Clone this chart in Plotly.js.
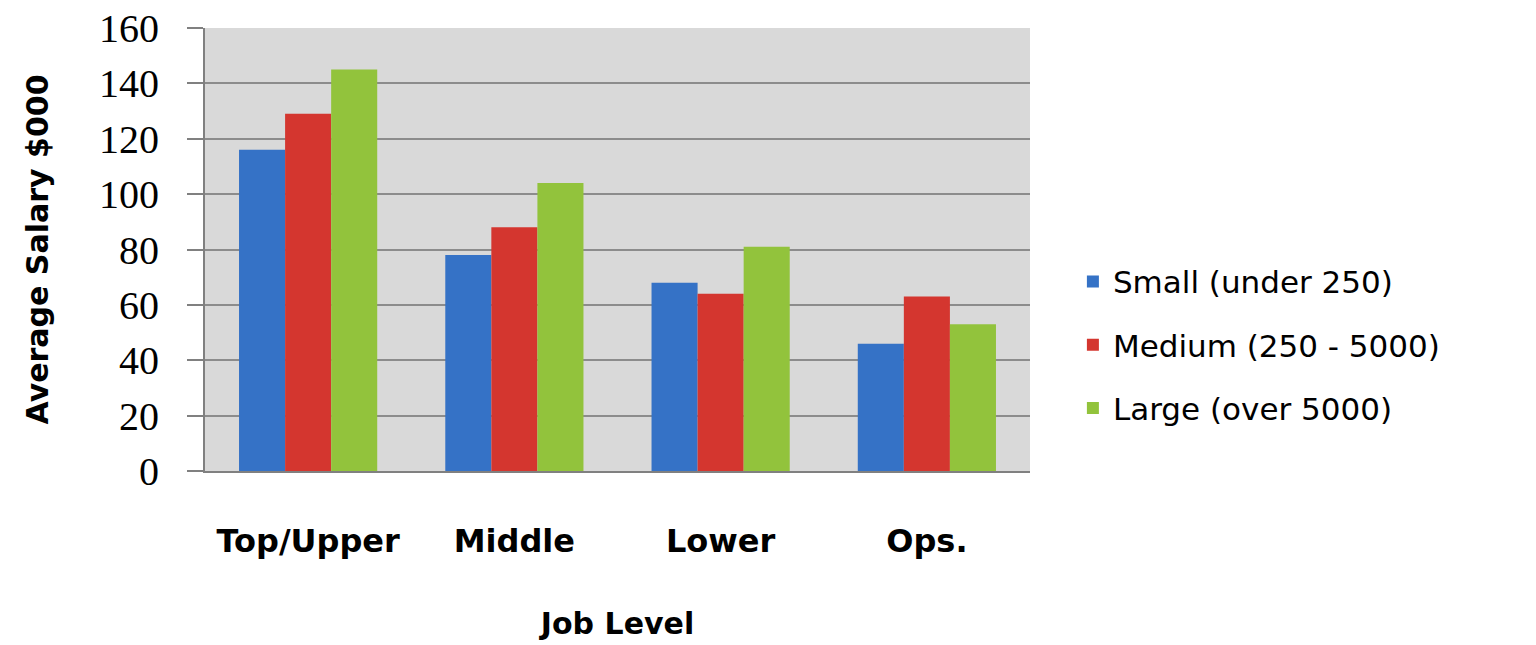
<!DOCTYPE html>
<html>
<head>
<meta charset="utf-8">
<script src="https://cdn.plot.ly/plotly-3.0.1.min.js"></script>
<style>html,body{margin:0;padding:0;background:#fff;}#chart{width:1536px;height:645px;}</style>
</head>
<body>
<div id="chart"></div>
<script>
const categories = ["Top/Upper", "Middle", "Lower", "Ops."];
const seriesNames = ["Small (under 250)", "Medium (250 - 5000)", "Large (over 5000)"];
const small = [116, 78, 68, 46];
const medium = [129, 88, 64, 63];
const large = [145, 104, 81, 53];
const yTicks = [0, 20, 40, 60, 80, 100, 120, 140, 160];

const colors = ["#3572c6", "#d4362f", "#92c33c"];
const values = [small, medium, large];

const sansFont = "'DejaVu Sans', Lato, sans-serif";

const traces = values.map((v, i) => ({
  type: "bar",
  x: categories,
  y: v,
  name: seriesNames[i],
  legendgroup: "g" + i,
  marker: {color: colors[i], line: {width: 0}},
  hoverinfo: "x+y+name"
}));

const layout = {
  width: 1536,
  height: 645,
  margin: {l: 205, r: 506, t: 28, b: 174},
  paper_bgcolor: "#ffffff",
  plot_bgcolor: "#d9d9d9",
  barmode: "group",
  bargap: 0.33,
  bargroupgap: 0,
  showlegend: true,
  legend: {
    x: 1.052, xanchor: "left",
    y: 0.285, yanchor: "middle",
    traceorder: "grouped",
    tracegroupgap: 20,
    font: {family: sansFont, size: 31, color: "#000"},
    bgcolor: "rgba(0,0,0,0)"
  },
  xaxis: {
    type: "category",
    showgrid: false,
    showline: true,
    linecolor: "#808080",
    linewidth: 2,
    ticks: "",
    ticklabelstandoff: 41,
    tickfont: {family: sansFont, size: 32, color: "#000", weight: "bold"},
    title: {text: "<b>Job Level</b>", font: {family: sansFont, size: 30, color: "#000"}, standoff: 54}
  },
  yaxis: {
    range: [0, 160],
    tickvals: yTicks,
    ticktext: yTicks.map(String),
    showgrid: true,
    gridcolor: "#8c8c8c",
    gridwidth: 2,
    zeroline: false,
    showline: true,
    linecolor: "#808080",
    linewidth: 2,
    ticks: "outside",
    ticklen: 16,
    tickwidth: 2,
    tickcolor: "#808080",
    ticklabelstandoff: 20,
    tickfont: {family: "'Liberation Serif', 'DejaVu Serif', serif", size: 40, color: "#000"},
    title: {text: "<b>Average Salary $000</b>", font: {family: sansFont, size: 30, color: "#000"}, standoff: 42}
  }
};

Plotly.newPlot("chart", traces, layout, {displayModeBar: false, staticPlot: true});
</script>
</body>
</html>
